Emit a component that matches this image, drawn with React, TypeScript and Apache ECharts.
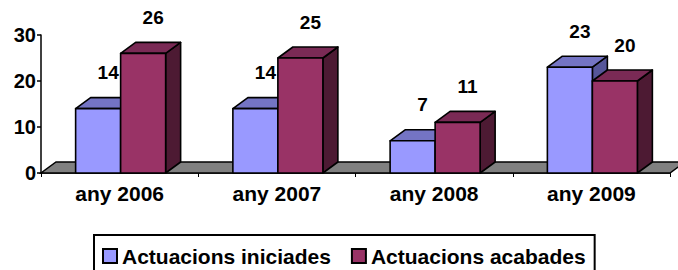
import React, { useEffect, useRef } from "react";
import * as echarts from "echarts";

const categories = ["any 2006", "any 2007", "any 2008", "any 2009"];
const seriesNames = ["Actuacions iniciades", "Actuacions acabades"];
const iniciades = [14, 14, 7, 23];
const acabades = [26, 25, 11, 20];
const yTicks = { min: 0, max: 30, interval: 10 };

const FONT = "'Liberation Sans', Arial, sans-serif";
const DX = 15;
const DY = 11;
const BAR_W = 45;

const palettes = [
  { front: "#9999FF", top: "#7474C4", side: "#56569A" },
  { front: "#993366", top: "#7A2A55", side: "#4D1A33" },
];

function makeBarRenderer(seriesIdx: number, offset: number) {
  const pal = palettes[seriesIdx];
  return (params: any, api: any) => {
    const cat = api.value(0);
    const v = api.value(1);
    const top = api.coord([cat, v]);
    const base = api.coord([cat, 0]);
    const x0 = top[0] + offset;
    const x1 = x0 + BAR_W;
    const yT = top[1];
    const yB = base[1];
    const stroke = { stroke: "#000", lineWidth: 1.6, lineJoin: "round" };
    return {
      type: "group",
      children: [
        {
          type: "polygon",
          shape: { points: [[x1, yT], [x1 + DX, yT - DY], [x1 + DX, yB - DY], [x1, yB]] },
          style: { fill: pal.side, ...stroke },
        },
        {
          type: "polygon",
          shape: { points: [[x0, yT], [x1, yT], [x1 + DX, yT - DY], [x0 + DX, yT - DY]] },
          style: { fill: pal.top, ...stroke },
        },
        {
          type: "polygon",
          shape: { points: [[x0, yT], [x1, yT], [x1, yB], [x0, yB]] },
          style: { fill: pal.front, ...stroke },
        },
        {
          type: "text",
          x: (x0 + x1) / 2 + 10,
          y: yT - 36,
          style: {
            text: String(v),
            fill: "#000",
            fontSize: 19,
            fontWeight: "bold",
            fontFamily: FONT,
            align: "center",
            verticalAlign: "middle",
          },
        },
      ],
    };
  };
}

export default function App() {
  const ref = useRef<HTMLDivElement>(null);
  useEffect(() => {
    if (!ref.current) return;
    const chart = echarts.init(ref.current, undefined, { renderer: "svg" });
    const option: any = {
      animation: false,
      backgroundColor: "#fff",
      grid: { left: 41, right: 8, top: 35, bottom: 97 },
      legend: {
        data: seriesNames,
        left: 94,
        top: 235,
        padding: [10, 9, 20, 8],
        itemGap: 20,
        itemWidth: 14,
        itemHeight: 14,
        icon: "rect",
        borderColor: "#000",
        borderWidth: 2,
        backgroundColor: "#fff",
        textStyle: { color: "#000", fontSize: 21, fontWeight: "bold", fontFamily: FONT, lineHeight: 22 },
      },
      xAxis: {
        type: "category",
        data: categories,
        axisLine: { show: true, lineStyle: { color: "#000", width: 1.5 } },
        axisTick: { show: true, length: 4, lineStyle: { color: "#000" } },
        axisLabel: { color: "#000", fontSize: 21, fontWeight: "bold", fontFamily: FONT, margin: 10 },
        splitLine: { show: false },
      },
      yAxis: {
        type: "value",
        min: yTicks.min,
        max: yTicks.max,
        interval: yTicks.interval,
        axisLine: { show: true, lineStyle: { color: "#000", width: 1.5 } },
        axisTick: { show: true, length: 4, lineStyle: { color: "#000", width: 1.5 } },
        axisLabel: { color: "#000", fontSize: 20, fontWeight: "bold", fontFamily: FONT, margin: 5 },
        splitLine: { show: false },
      },
      series: [
        {
          name: "floor",
          type: "custom",
          data: [[0, 0]],
          silent: true,
          z: 1,
          renderItem: (params: any, api: any) => {
            const cs = params.coordSys;
            const yb = api.coord([0, 0])[1];
            const x0 = cs.x;
            const x1 = cs.x + cs.width;
            return {
              type: "polygon",
              shape: { points: [[x0, yb], [x1, yb], [x1 + DX, yb - DY], [x0 + DX, yb - DY]] },
              style: { fill: "#808080", stroke: "#000", lineWidth: 1.5 },
            };
          },
        },
        {
          name: seriesNames[0],
          type: "custom",
          data: categories.map((_, i) => [i, iniciades[i]]),
          z: 2,
          itemStyle: { color: palettes[0].front, borderColor: "#000", borderWidth: 1.5 },
          renderItem: makeBarRenderer(0, -44),
        },
        {
          name: seriesNames[1],
          type: "custom",
          data: categories.map((_, i) => [i, acabades[i]]),
          z: 3,
          itemStyle: { color: palettes[1].front, borderColor: "#000", borderWidth: 1.5 },
          renderItem: makeBarRenderer(1, 1),
        },
      ],
    };
    chart.setOption(option);
    return () => chart.dispose();
  }, []);
  return (
    <div
      ref={ref}
      style={{ position: "fixed", left: 0, top: 0, width: 678, height: 270, background: "#fff" }}
    />
  );
}
